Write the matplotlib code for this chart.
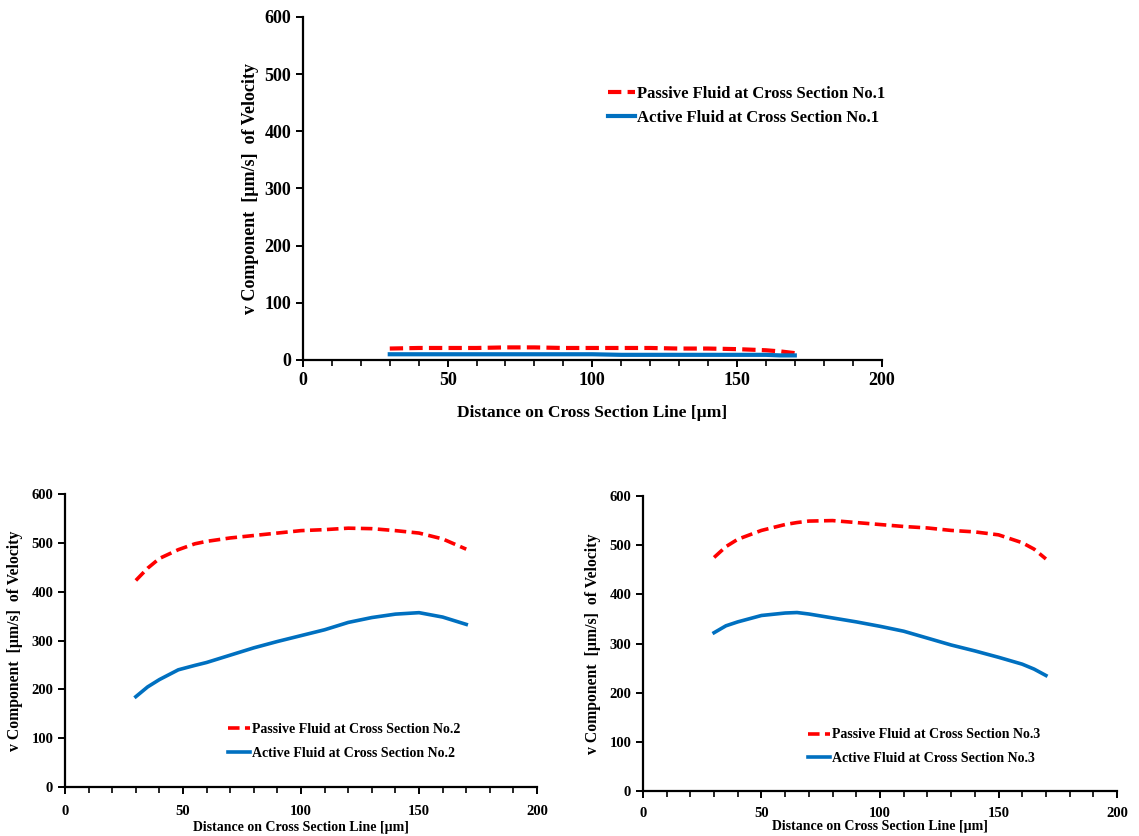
import matplotlib
matplotlib.use("Agg")
import matplotlib.pyplot as plt
from matplotlib.ticker import MultipleLocator

plt.rcParams['font.family'] = ['Liberation Serif', 'DejaVu Serif']
plt.rcParams['font.weight'] = 'bold'

# Distance along each cross-section line [µm]
dist_s1 = [30, 40, 50, 60, 70, 80, 90, 100, 110, 120, 130, 140, 150, 160, 165, 170]
passive_s1 = [20, 21, 21, 21, 22, 22, 21, 21, 21, 21, 20, 20, 19, 17, 15, 12]
active_s1 = [10, 10, 10, 10, 10, 10, 10, 10, 9, 9, 9, 9, 9, 9, 8, 8]

dist_s2 = [30, 35, 40, 48, 55, 60, 70, 80, 90, 100, 110, 120, 130, 140, 150, 160, 170]
passive_s2 = [423, 448, 468, 486, 498, 503, 510, 515, 520, 525, 527, 530, 529, 525, 520, 508, 487]
active_s2 = [185, 205, 220, 240, 249, 255, 270, 285, 298, 310, 322, 337, 347, 354, 357, 348, 333]

dist_s3 = [30, 35, 40, 50, 60, 65, 70, 80, 90, 100, 110, 120, 130, 140, 150, 160, 165, 170]
passive_s3 = [475, 497, 512, 530, 542, 546, 549, 550, 546, 542, 538, 535, 530, 527, 521, 505, 492, 472]
active_s3 = [322, 336, 344, 357, 362, 363, 360, 352, 344, 335, 325, 311, 297, 285, 272, 258, 248, 235]

x_ticks = [0, 50, 100, 150, 200]
y_ticks = [0, 100, 200, 300, 400, 500, 600]

RED = '#FF0000'
BLUE = '#0070C0'

fig = plt.figure(figsize=(11.39, 8.36), dpi=100)

panels = [
    dict(rect=[0.266, 0.5694, 0.508, 0.4103], x=dist_s1, p=passive_s1, a=active_s1, n=1,
         tick_fs=13, lab_fs=12.5, ylab_fs=13, leg_fs=12, leg_anchor=(0.527, 0.80),
         xlab_pad=12, xtick_pad=3.5, ylab_pad=4, lw=3.0, spacing=0.5),
    dict(rect=[0.0571, 0.0586, 0.4144, 0.3505], x=dist_s2, p=passive_s2, a=active_s2, n=2,
         tick_fs=10.5, lab_fs=10, ylab_fs=11.3, leg_fs=10, leg_anchor=(0.345, 0.218),
         xlab_pad=2, xtick_pad=8, ylab_pad=6, lw=2.6, spacing=0.75),
    dict(rect=[0.5645, 0.0538, 0.4162, 0.3529], x=dist_s3, p=passive_s3, a=active_s3, n=3,
         tick_fs=10.5, lab_fs=10, ylab_fs=11.3, leg_fs=10, leg_anchor=(0.348, 0.212),
         xlab_pad=0, xtick_pad=6.5, ylab_pad=6, lw=2.6, spacing=0.75),
]

for cfg in panels:
    ax = fig.add_axes(cfg['rect'])
    ax.plot(cfg['x'], cfg['p'], color=RED, lw=cfg['lw'], ls=(0, (3.2, 1.5)),
            label=f"Passive Fluid at Cross Section No.{cfg['n']}")
    ax.plot(cfg['x'], cfg['a'], color=BLUE, lw=cfg['lw'], ls='-',
            label=f"Active Fluid at Cross Section No.{cfg['n']}")
    ax.set_xlim(0, 200)
    ax.set_ylim(0, 600)
    ax.set_xticks(x_ticks)
    ax.set_yticks(y_ticks)
    ax.xaxis.set_minor_locator(MultipleLocator(10))
    for side in ('top', 'right'):
        ax.spines[side].set_visible(False)
    for side in ('left', 'bottom'):
        ax.spines[side].set_linewidth(1.6)
        ax.spines[side].set_color('black')
    ax.tick_params(axis='both', which='major', direction='out', length=5, width=1.4,
                   labelsize=cfg['tick_fs'], colors='black')
    ax.tick_params(axis='x', which='major', pad=cfg['xtick_pad'])
    ax.tick_params(axis='x', which='minor', direction='out', length=4, width=1.2)
    for lbl in ax.get_xticklabels() + ax.get_yticklabels():
        lbl.set_fontweight('bold')
    ax.set_xlabel('Distance on Cross Section Line [µm]', fontsize=cfg['lab_fs'],
                  fontweight='bold', labelpad=cfg['xlab_pad'])
    ax.set_ylabel('v Component  [µm/s]  of Velocity', fontsize=cfg['ylab_fs'],
                  fontweight='bold', labelpad=cfg['ylab_pad'])
    ax.legend(loc='upper left', bbox_to_anchor=cfg['leg_anchor'], frameon=False,
              handlelength=1.6, handletextpad=0.15,
              borderpad=0, borderaxespad=0, labelspacing=cfg['spacing'],
              prop={'weight': 'bold', 'size': cfg['leg_fs']})

fig.savefig('out.png', dpi=100)
